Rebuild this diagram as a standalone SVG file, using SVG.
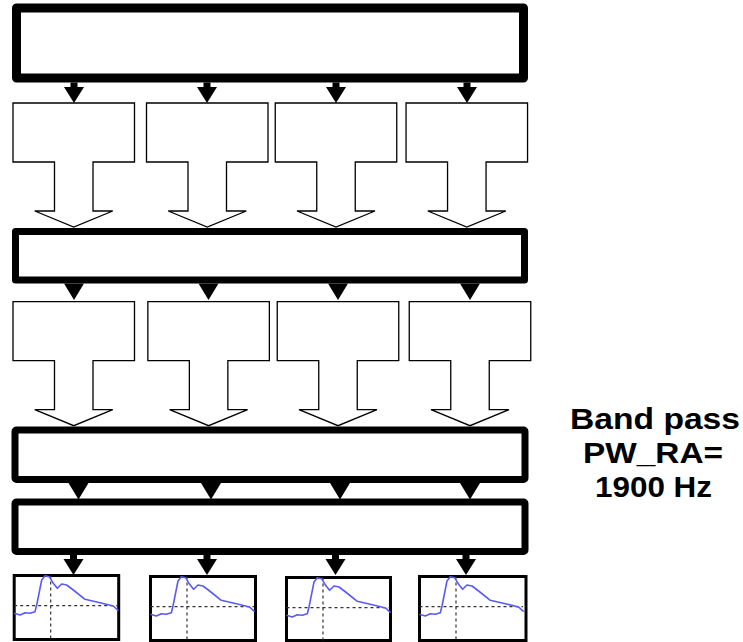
<svg xmlns="http://www.w3.org/2000/svg" xmlns:xlink="http://www.w3.org/1999/xlink" width="743" height="642" viewBox="0 0 743 642">
<style>
.box{fill:#fff;stroke:#000;stroke-linejoin:round}
.tee{fill:#fff;stroke:#000;stroke-width:1.3;stroke-linejoin:miter}
.head{fill:#000;stroke:none}
.chart{fill:#fff;stroke:#000;stroke-width:3}
.dash{fill:none;stroke:#333;stroke-width:1.2;stroke-dasharray:3 3}
.curve{fill:none;stroke:#5a5af5;stroke-width:1.6;stroke-linejoin:round}
.lbl{font-family:"Liberation Sans",Arial,sans-serif;font-weight:bold;font-size:30px;fill:#000;text-anchor:middle}
</style>
<defs>
<path id="tee" class="tee" d="M-60.75,0 H60.75 V59 H19.25 V108 H39 L0,124 L-39,108 H-19.25 V59 H-60.75 Z"/>
<path id="arrS" class="head" d="M-3.5,0 H3.5 V4.5 H10 L0,20.5 L-10,4.5 H-3.5 Z"/>
<path id="arrH" class="head" d="M-10,0 H10 L0,16.5 Z"/>
<g id="plot">
<path class="dash" d="M1.5,31.7 H105"/>
<path class="dash" d="M38,1.5 V65"/>
<path class="curve" d="M1.5,39.3 L7.3,41 L12.3,38.7 L17.3,39.3 L22.3,37.7 L24,31 L29,6 L32.3,1.7 L36.6,2.7 L40.6,9.3 L44.6,14.3 L49,10 L54,11 L60.6,16 L72.3,25.3 L87.3,28.7 L100.6,32 L105.6,36.7"/>
</g>
</defs>

<g id="box1"><rect class="box" x="16.5" y="8" width="507" height="70" stroke-width="9"/></g>
<g id="box2"><rect class="box" x="15.5" y="231.5" width="509" height="48.5" stroke-width="7"/></g>
<g id="box3"><rect class="box" x="15" y="430" width="510" height="49.5" stroke-width="7" rx="1.5"/></g>
<g id="box4"><rect class="box" x="15" y="502" width="510" height="49.5" stroke-width="7" rx="1.5"/></g>

<g id="tees-row1">
<use xlink:href="#tee" x="73.75" y="103"/>
<use xlink:href="#tee" x="207.25" y="103"/>
<use xlink:href="#tee" x="336" y="103"/>
<use xlink:href="#tee" x="466.8" y="103"/>
</g>
<g id="tees-row2">
<use xlink:href="#tee" x="73.75" y="301.7"/>
<use xlink:href="#tee" x="208.6" y="301.7"/>
<use xlink:href="#tee" x="338" y="301.7"/>
<use xlink:href="#tee" x="470" y="301.7"/>
</g>

<g id="connectors">
<use xlink:href="#arrS" x="74" y="82.5"/>
<use xlink:href="#arrS" x="207" y="82.5"/>
<use xlink:href="#arrS" x="336" y="82.5"/>
<use xlink:href="#arrS" x="467" y="82.5"/>
<use xlink:href="#arrH" x="74" y="283.5"/>
<use xlink:href="#arrH" x="208.5" y="283.5"/>
<use xlink:href="#arrH" x="338" y="283.5"/>
<use xlink:href="#arrH" x="470" y="283.5"/>
<use xlink:href="#arrH" x="78.5" y="483"/>
<use xlink:href="#arrH" x="211" y="483"/>
<use xlink:href="#arrH" x="340" y="483"/>
<use xlink:href="#arrH" x="470" y="483"/>
<use xlink:href="#arrS" x="73.5" y="554.5"/>
<use xlink:href="#arrS" x="207" y="554.5"/>
<use xlink:href="#arrS" x="335.5" y="554.5"/>
<use xlink:href="#arrS" x="466" y="554.5"/>
</g>

<g id="chart1"><rect class="chart" x="14.2" y="575.5" width="104.5" height="64"/><use xlink:href="#plot" transform="translate(12.7,574)"/></g>
<g id="chart2"><rect class="chart" x="150.5" y="576.5" width="105" height="64"/><use xlink:href="#plot" transform="translate(149,575)"/></g>
<g id="chart3"><rect class="chart" x="286.5" y="577.5" width="104" height="63"/><use xlink:href="#plot" transform="translate(285,576)"/></g>
<g id="chart4"><rect class="chart" x="419.5" y="576.5" width="106.5" height="64"/><use xlink:href="#plot" transform="translate(418,575)"/></g>

<g id="label">
<text class="lbl" x="655" y="429" textLength="170" lengthAdjust="spacingAndGlyphs">Band pass</text>
<text class="lbl" x="653" y="463" textLength="140" lengthAdjust="spacingAndGlyphs">PW_RA=</text>
<text class="lbl" x="653.5" y="497" textLength="117" lengthAdjust="spacingAndGlyphs">1900 Hz</text>
</g>
</svg>
